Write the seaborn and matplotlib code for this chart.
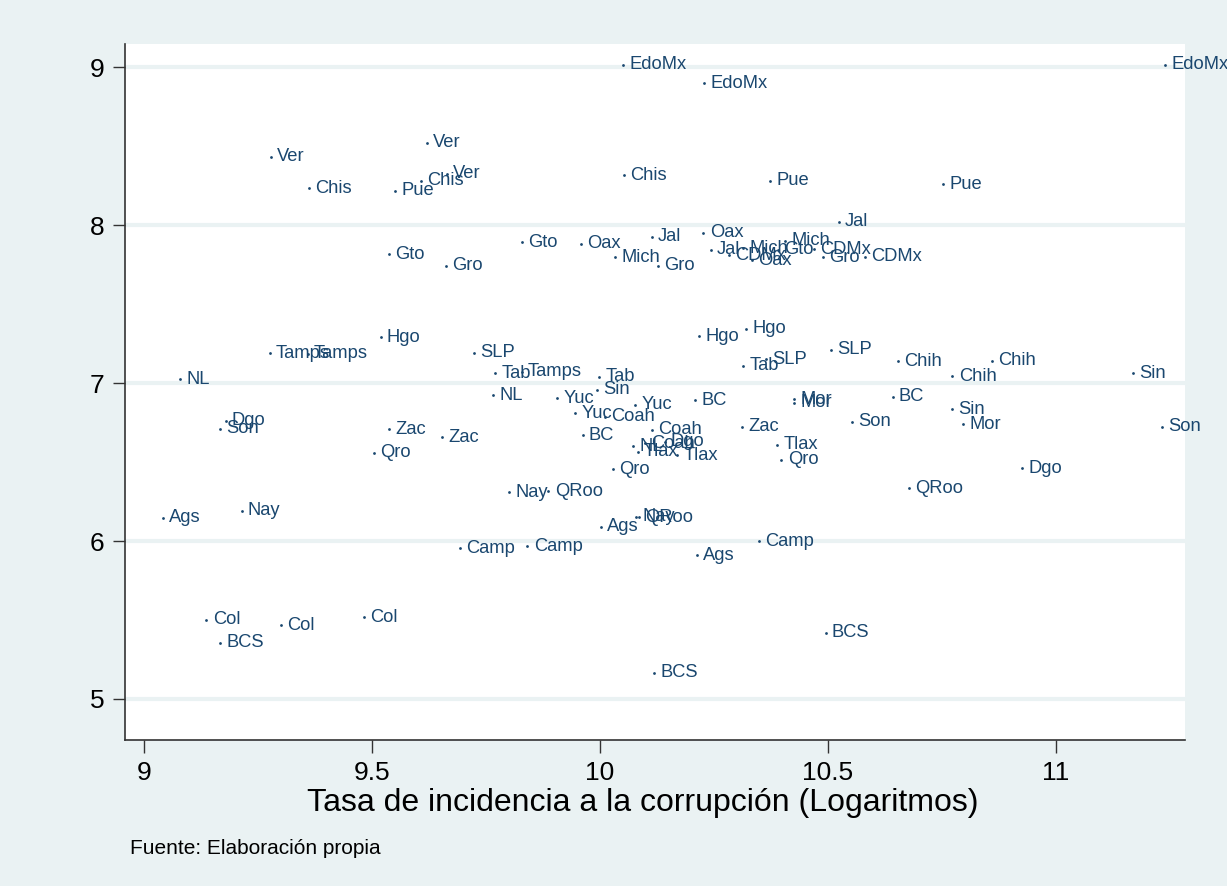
import matplotlib
matplotlib.use("Agg")
import matplotlib.pyplot as plt
import seaborn as sns
import pandas as pd

states = ["EdoMx", "Ver", "Chis", "Pue", "Gto", "Gro", "Oax", "Mich", "Jal", "CDMx",
          "Hgo", "Tamps", "NL", "SLP", "Tab", "Sin", "Yuc", "BC", "Coah", "Mor",
          "Chih", "Son", "Dgo", "Zac", "Qro", "Tlax", "Nay", "QRoo", "Ags", "Camp",
          "Col", "BCS"]

# log corruption incidence rate (three observations per state)
x_vals = [
    [10.051, 10.228, 11.239],  # EdoMx
    [9.278, 9.620, 9.664],     # Ver
    [9.3625, 9.607, 10.053],   # Chis
    [9.550, 10.373, 10.753],   # Pue
    [9.537, 9.828, 10.390],    # Gto
    [9.662, 10.127, 10.488],   # Gro
    [9.958, 10.227, 10.333],   # Oax
    [10.033, 10.314, 10.406],  # Mich
    [10.113, 10.243, 10.524],  # Jal
    [10.283, 10.470, 10.581],  # CDMx
    [9.519, 10.217, 10.320],   # Hgo
    [9.276, 9.359, 9.828],     # Tamps
    [9.079, 9.766, 10.072],    # NL
    [9.724, 10.363, 10.507],   # SLP
    [9.770, 9.998, 10.314],    # Tab
    [9.994, 10.773, 11.168],   # Sin
    [9.906, 9.945, 10.077],    # Yuc
    [9.962, 10.209, 10.642],   # BC
    [10.011, 10.113, 10.098],  # Coah
    [10.425, 10.425, 10.797],  # Mor
    [10.653, 10.773, 10.860],  # Chih
    [9.167, 10.552, 11.232],   # Son
    [9.179, 10.142, 10.925],   # Dgo
    [9.537, 9.653, 10.311],    # Zac
    [9.505, 10.028, 10.398],   # Qro
    [10.083, 10.169, 10.389],  # Tlax
    [9.214, 9.801, 10.079],    # Nay
    [9.887, 10.085, 10.678],   # QRoo
    [9.042, 10.002, 10.213],   # Ags
    [9.693, 9.841, 10.349],    # Camp
    [9.137, 9.300, 9.482],     # Col
    [9.167, 10.118, 10.495],   # BCS
]

y_vals = [
    [9.013, 8.897, 9.013],   # EdoMx
    [8.432, 8.521, 8.323],   # Ver
    [8.232, 8.280, 8.316],   # Chis
    [8.217, 8.280, 8.259],   # Pue
    [7.815, 7.890, 7.842],   # Gto
    [7.741, 7.742, 7.796],   # Gro
    [7.880, 7.951, 7.778],   # Oax
    [7.796, 7.854, 7.901],   # Mich
    [7.926, 7.842, 8.021],   # Jal
    [7.810, 7.846, 7.800],   # CDMx
    [7.289, 7.297, 7.342],   # Hgo
    [7.188, 7.184, 7.072],   # Tamps
    [7.025, 6.924, 6.601],   # NL
    [7.192, 7.150, 7.209],   # SLP
    [7.061, 7.040, 7.109],   # Tab
    [6.956, 6.833, 7.061],   # Sin
    [6.903, 6.808, 6.861],   # Yuc
    [6.669, 6.892, 6.913],   # BC
    [6.785, 6.703, 6.620],   # Coah
    [6.897, 6.875, 6.739],   # Mor
    [7.139, 7.044, 7.141],   # Chih
    [6.709, 6.755, 6.723],   # Son
    [6.761, 6.627, 6.460],   # Dgo
    [6.707, 6.656, 6.723],   # Zac
    [6.559, 6.454, 6.513],   # Qro
    [6.565, 6.544, 6.608],   # Tlax
    [6.190, 6.308, 6.154],   # Nay
    [6.316, 6.150, 6.333],   # QRoo
    [6.148, 6.091, 5.911],   # Ags
    [5.954, 5.968, 6.000],   # Camp
    [5.500, 5.468, 5.517],   # Col
    [5.356, 5.167, 5.420],   # BCS
]

x_ticks = [9, 9.5, 10, 10.5, 11]
x_tick_labels = ["9", "9.5", "10", "10.5", "11"]
y_ticks = [5, 6, 7, 8, 9]
x_title = "Tasa de incidencia a la corrupción (Logaritmos)"
note = "Fuente: Elaboración propia"

rows = []
for s, xs, ys in zip(states, x_vals, y_vals):
    for xv, yv in zip(xs, ys):
        rows.append({"estado": s, "x": xv, "y": yv})
df = pd.DataFrame(rows)

sns.set_theme(style="white")
plt.rcParams["font.family"] = ["Liberation Sans", "DejaVu Sans"]

BG = "#EAF2F3"
NAVY = "#1a476f"

fig = plt.figure(figsize=(12.27, 8.86), dpi=100, facecolor=BG)
ax = fig.add_axes([125 / 1227, 1 - 740 / 886, (1185 - 125) / 1227, (740 - 44) / 886])
ax.set_facecolor("white")

sns.scatterplot(data=df, x="x", y="y", ax=ax, color=NAVY, s=4, linewidth=0,
                marker="o", legend=False, zorder=3)

for _, r in df.iterrows():
    ax.annotate(r["estado"], (r["x"], r["y"]), xytext=(4.5, 0), textcoords="offset points",
                va="center", ha="left", fontsize=13.2, color=NAVY, zorder=4,
                annotation_clip=False)

ax.set_xlim(8.9583, 11.283)
ax.set_ylim(4.7405, 9.1456)
ax.set_xticks(x_ticks)
ax.set_xticklabels(x_tick_labels)
ax.set_yticks(y_ticks)
ax.set_yticklabels([str(v) for v in y_ticks])

ax.grid(axis="y", color=BG, linewidth=3, zorder=0)
ax.set_axisbelow(True)

for side in ["top", "right"]:
    ax.spines[side].set_visible(False)
for side in ["left", "bottom"]:
    ax.spines[side].set_visible(True)
    ax.spines[side].set_color("#333333")
    ax.spines[side].set_linewidth(1.2)

ax.tick_params(axis="both", which="major", direction="out", length=9, width=1.0,
               color="#333333", labelsize=19, labelcolor="black", pad=6,
               left=True, bottom=True)

ax.set_xlabel(x_title, fontsize=23, color="black")
ax.xaxis.set_label_coords((643 - 125) / 1060, -(803 - 740) / 696, transform=ax.transAxes)
ax.xaxis.label.set_va("center")
ax.set_ylabel("")

fig.text(130 / 1227, 1 - 848 / 886, note, fontsize=15, color="black",
         ha="left", va="center")

fig.savefig("out.png", dpi=100, facecolor=BG)
